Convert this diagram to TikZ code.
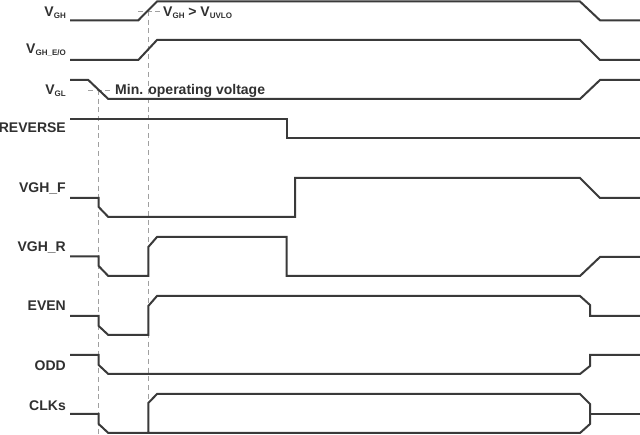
\documentclass[tikz,border=0pt]{standalone}
\usepackage{fontspec}
\setmainfont{Liberation Sans}
\usetikzlibrary{positioning}
\definecolor{wave}{HTML}{3A3A3A}
\definecolor{guide}{HTML}{A0A0A0}
\definecolor{ink}{HTML}{303030}
\newcommand{\subtxt}[1]{\raisebox{-2pt}{\fontsize{8}{8}\selectfont #1}}

\begin{document}
\begin{tikzpicture}[x=1pt,y=-1pt,
  sig/.style={wave,line width=2pt},
  guideline/.style={guide,line width=0.9pt,dash pattern=on 5pt off 3.7pt},
  siglabel/.style={anchor=base east,text=ink,inner sep=0pt,font=\bfseries\fontsize{14}{16}\selectfont},
  note/.style={anchor=base west,text=ink,inner sep=0pt,font=\bfseries\fontsize{14}{16}\selectfont}]
  \useasboundingbox[fill=white] (0,0) rectangle (640,435);

  % signal names
  \node[siglabel] (lvgh)  at (66,16.7)  {V\subtxt{GH}};
  \node[siglabel] (lvgheo) at (66,53.3) {V\subtxt{GH\_E/O}};
  \node[siglabel] (lvgl)  at (66,95)    {V\subtxt{GL}};
  \node[siglabel] (lrev)  at (66,132.7) {REVERSE};
  \node[siglabel] (lvghf) at (66,192.5) {VGH\_F};
  \node[siglabel] (lvghr) at (66,251.7) {VGH\_R};
  \node[siglabel] (leven) at (66,311)   {EVEN};
  \node[siglabel] (lodd)  at (66,371)   {ODD};
  \node[siglabel] (lclk)  at (66,410)   {CLKs};

  % thresholds
  \draw[guideline] (138,11) -- (160,11);
  \draw[guideline] (148.3,11) -- (148.3,435);
  \draw[guideline] (88,90) -- (110,90);
  \draw[guideline] (98.7,90) -- (98.7,435);
  \node[note] (uvlo) at (163,16.7) {V\subtxt{GH} > V\subtxt{UVLO}};
  \node[note] (minop) at (115,94.5) {Min. operating voltage};

  % waveforms
  \draw[sig] (70,20.3) -- (138.3,20.3) -- (157,1.5) -- (580,1.5) -- (600,20.3) -- (640,20.3);
  \draw[sig] (70,60) -- (138.3,60) -- (157,40) -- (580,40) -- (600,60) -- (640,60);
  \draw[sig] (70,80) -- (88.3,80) -- (108.3,99) -- (580,99) -- (600,80) -- (640,80);
  \draw[sig] (70,119) -- (286.7,119) -- (286.7,138) -- (640,138);
  \draw[sig] (70,198) -- (98.7,198) -- (98.7,207) -- (108.3,217) -- (295,217) -- (295,178)
    -- (580,178) -- (600,198) -- (640,198);
  \draw[sig] (70,256.5) -- (98.7,256.5) -- (98.7,266) -- (108.3,276) -- (148.3,276) -- (148.3,247)
    -- (157,237) -- (286.7,237) -- (286.7,276) -- (580,276) -- (600,257) -- (640,257);
  \draw[sig] (70,316) -- (98.7,316) -- (98.7,326) -- (108.3,335) -- (148.3,335) -- (148.3,306)
    -- (157,296) -- (580,296) -- (590,305) -- (590,316) -- (640,316);
  \draw[sig] (70,355) -- (98.7,355) -- (98.7,365) -- (108.3,374) -- (580,374) -- (590,366)
    -- (590,355) -- (640,355);
  \draw[sig] (70,414) -- (98.7,414) -- (98.7,424) -- (108.3,433) -- (580,433) -- (590,424)
    -- (590,404) -- (580,394) -- (157,394) -- (148.3,403) -- (148.3,433);
  \draw[sig] (590,414) -- (640,414);
\end{tikzpicture}
\end{document}
